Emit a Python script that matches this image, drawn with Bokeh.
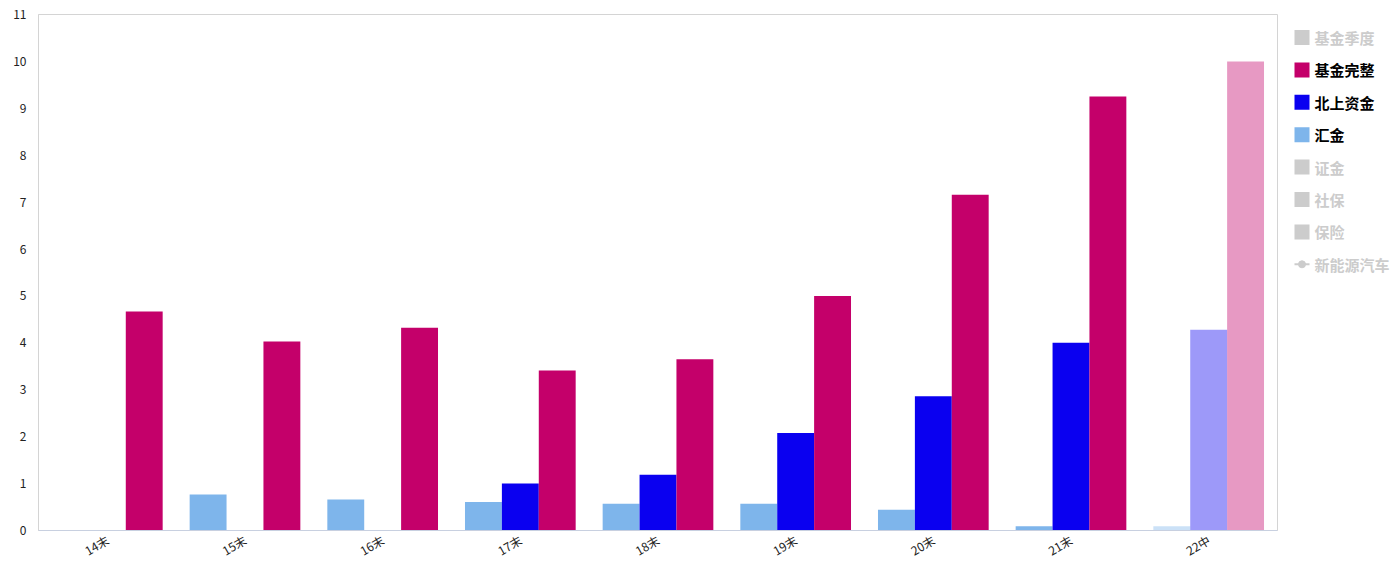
import math
from bokeh.plotting import figure
from bokeh.layouts import row
from bokeh.models import ColumnDataSource, FactorRange, Range1d, FixedTicker
from bokeh.core.properties import value
from bokeh.transform import dodge
from bokeh.embed import file_html
from bokeh.resources import INLINE

nan = float("nan")

categories = ["14末", "15末", "16末", "17末", "18末", "19末", "20末", "21末", "22中"]
huijin = [nan, 0.77, 0.66, 0.61, 0.57, 0.57, 0.44, 0.09, 0.09]
beishang = [nan, nan, nan, 1.00, 1.19, 2.08, 2.86, 4.00, 4.28]
jijin_wanzheng = [4.67, 4.03, 4.32, 3.41, 3.65, 5.00, 7.16, 9.25, 10.00]
y_ticks = list(range(0, 12))
legend_names = ["基金季度", "基金完整", "北上资金", "汇金", "证金", "社保", "保险", "新能源汽车"]
legend_active = [False, True, True, True, False, False, False, False]

C_JJ = "#c4006a"
C_BS = "#0a00f0"
C_HJ = "#7eb5eb"
C_OFF = "#cccccc"
FONT = "Noto Sans CJK SC"

# last period is shown faded (estimate)
alpha = [0.4 if c == "22中" else 1.0 for c in categories]

src = ColumnDataSource(dict(cat=categories, hj=huijin, bs=beishang,
                            jj=jijin_wanzheng, a=alpha))

p = figure(width=1278, height=570, x_range=FactorRange(*categories),
           y_range=Range1d(0, 11), output_backend="svg", toolbar_location=None,
           min_border_left=38, min_border_right=1, min_border_top=14,
           min_border_bottom=40)

bw = 0.268
p.vbar(x=dodge("cat", -bw, range=p.x_range), top="hj", width=bw, source=src,
       fill_color=C_HJ, fill_alpha="a", line_color=None)
p.vbar(x=dodge("cat", 0, range=p.x_range), top="bs", width=bw, source=src,
       fill_color=C_BS, fill_alpha="a", line_color=None)
p.vbar(x=dodge("cat", bw, range=p.x_range), top="jj", width=bw, source=src,
       fill_color=C_JJ, fill_alpha="a", line_color=None)

p.xgrid.visible = False
p.ygrid.visible = False
p.outline_line_color = "#d4d4d4"
p.background_fill_color = "white"
p.border_fill_color = "white"

p.yaxis.ticker = FixedTicker(ticks=y_ticks)
p.yaxis.major_tick_out = 0
p.yaxis.major_tick_in = 0
p.yaxis.minor_tick_out = 0
p.yaxis.minor_tick_in = 0
p.yaxis.axis_line_color = "#d4d4d4"
p.yaxis.major_label_standoff = 12
p.yaxis.major_label_text_font = FONT
p.yaxis.major_label_text_font_size = "12px"
p.yaxis.major_label_text_color = "#222222"

p.xaxis.major_tick_out = 0
p.xaxis.major_tick_in = 0
p.xaxis.axis_line_color = "#c8d0e0"
p.xaxis.major_label_orientation = math.pi / 6
p.xaxis.major_label_standoff = 8
p.xaxis.major_label_text_font = FONT
p.xaxis.major_label_text_font_size = "12px"
p.xaxis.major_label_text_color = "#222222"

# ---- legend panel (separate figure; its frame is aligned with the main frame,
# so the y range is expressed in page pixels 14..530) ----
lw = 112
lg = figure(width=lw, height=570, x_range=Range1d(0, lw), y_range=Range1d(530, 14),
            output_backend="svg", toolbar_location=None,
            x_axis_location=None, y_axis_location=None,
            min_border_left=0, min_border_right=0, min_border_top=14,
            min_border_bottom=40)
lg.xgrid.visible = False
lg.ygrid.visible = False
lg.outline_line_color = None
lg.background_fill_color = "white"
lg.border_fill_color = "white"

leg_colors = [C_OFF, C_JJ, C_BS, C_HJ, C_OFF, C_OFF, C_OFF, C_OFF]
centers = [37 + 32.4 * i for i in range(len(legend_names))]
sq = [i for i, n in enumerate(legend_names) if n != "新能源汽车"]
lg.rect(x=[23.5] * len(sq), y=[centers[i] for i in sq], width=15, height=15,
        fill_color=[leg_colors[i] for i in sq], line_color=None)
last = len(legend_names) - 1
lg.segment(x0=[16], y0=[centers[last]], x1=[31], y1=[centers[last]],
           line_color=C_OFF, line_width=2)
lg.scatter(x=[23.5], y=[centers[last]], marker="circle", size=7,
           fill_color=C_OFF, line_color=C_OFF)
lg.text(x=[36] * len(legend_names), y=centers, text=legend_names,
        text_color=["#000000" if a else C_OFF for a in legend_active],
        text_font=value(FONT), text_font_size="15px", text_font_style="bold",
        text_baseline="middle", text_align="left")

layout = row(p, lg, spacing=0)
open("out.html", "w").write(file_html(layout, INLINE))
